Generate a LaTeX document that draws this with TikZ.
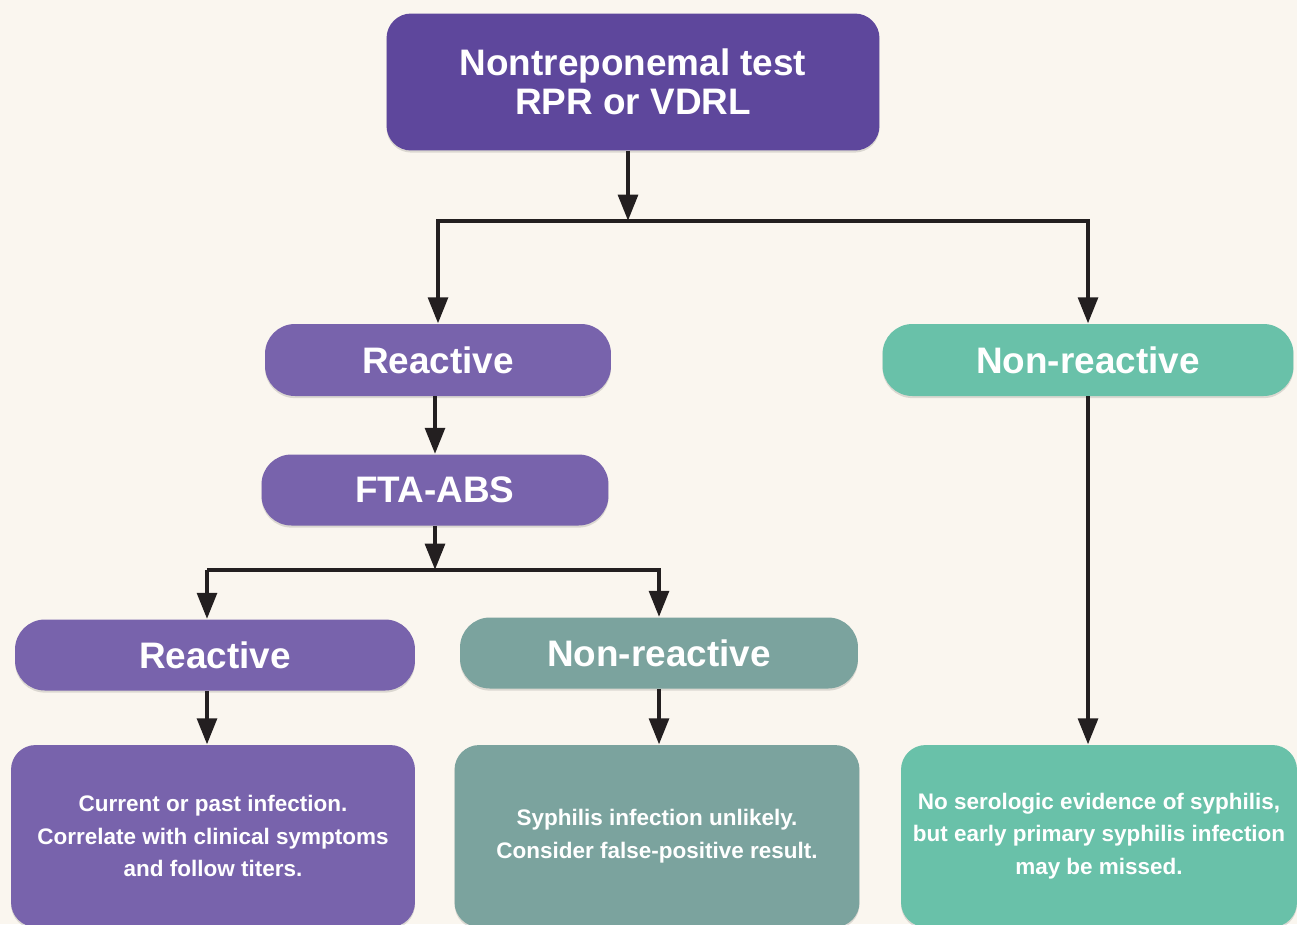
\documentclass[tikz,border=0pt]{standalone}
\usepackage{fontspec}
\setmainfont{Liberation Sans}
\usetikzlibrary{arrows.meta,shadows}

\definecolor{bgcream}{HTML}{FAF6EF}
\definecolor{deeppurple}{HTML}{5E479C}
\definecolor{softpurple}{HTML}{7863AC}
\definecolor{mintgreen}{HTML}{69C1A9}
\definecolor{grayteal}{HTML}{7BA39E}
\definecolor{inkblack}{HTML}{231F20}

\tikzset{
  flowbox/.style={rounded corners=17pt, text=white, align=center,
    inner sep=0pt, font=\bfseries\fontsize{21}{22}\selectfont,
    drop shadow={shadow xshift=0pt, shadow yshift=-1.2pt, opacity=0.12, fill=black}},
  resultbox/.style={flowbox, rounded corners=14pt,
    font=\bfseries\fontsize{12.8}{18.5}\selectfont},
  arr/.style={draw=inkblack, line width=2.8pt,
    -{Triangle[length=15pt,width=11pt]}},
  joinline/.style={draw=inkblack, line width=2.8pt}
}

\begin{document}
\begin{tikzpicture}[x=0.02cm,y=-0.02cm]
		% >>> background
		\fill[bgcream] (0,0) rectangle (1297,924);
		\useasboundingbox (0,0) rectangle (1297,924);
		% <<< background

		% >>> boxes
		\node[flowbox, fill=deeppurple, rounded corners=14pt, minimum width=9.86cm, minimum height=2.74cm] (nontrep) at (633,82) {Nontreponemal test\\RPR or VDRL};
		\node[flowbox, fill=softpurple, minimum width=6.92cm, minimum height=1.44cm] (reactA) at (438,360) {Reactive};
		\node[flowbox, fill=mintgreen, minimum width=8.22cm, minimum height=1.44cm] (nonreactA) at (1088,360) {Non-reactive};
		\node[flowbox, fill=softpurple, minimum width=6.94cm, minimum height=1.42cm] (ftaabs) at (435,490) {FTA-ABS};
		\node[flowbox, fill=softpurple, minimum width=8.0cm, minimum height=1.42cm] (reactB) at (215,655) {Reactive};
		\node[flowbox, fill=grayteal, minimum width=7.96cm, minimum height=1.42cm] (nonreactB) at (659,653) {Non-reactive};
		% <<< boxes

		% >>> results
		\node[resultbox, fill=softpurple, minimum width=8.08cm, minimum height=3.64cm] (pastinf) at (213,836) {Current or past infection.\\Correlate with clinical symptoms\\and follow titers.};
		\node[resultbox, fill=grayteal, minimum width=8.1cm, minimum height=3.64cm] (unlikely) at (657,836) {Syphilis infection unlikely.\\Consider false-positive result.};
		\node[resultbox, fill=mintgreen, minimum width=7.92cm, minimum height=3.64cm] (noevid) at (1099,836) {No serologic evidence of syphilis,\\but early primary syphilis infection\\may be missed.};
		% <<< results

		% >>> connectors
		\coordinate (splitA) at (628,221);
		\coordinate (splitB) at (435,570);
		\coordinate (legB) at (207,570);
		\draw[arr] (nontrep.south -| splitA) -- (splitA);
		\draw[joinline] (reactA.north |- splitA) -- (nonreactA.north |- splitA);
		\draw[arr] (splitA) -| (reactA.north);
		\draw[arr] (splitA) -| (nonreactA.north);
		\draw[arr] (reactA.south -| splitB) -- (ftaabs.north -| splitB);
		\draw[arr] (ftaabs.south -| splitB) -- (splitB);
		\draw[joinline] (legB) -- (nonreactB.north |- splitB);
		\draw[arr] (legB) -- (reactB.north -| legB);
		\draw[arr] (splitB) -| (nonreactB.north);
		\draw[arr] (reactB.south -| legB) -- (pastinf.north -| legB);
		\draw[arr] (nonreactB.south) -- (unlikely.north -| nonreactB.south);
		\draw[arr] (nonreactA.south) -- (noevid.north -| nonreactA.south);
		% <<< connectors
\end{tikzpicture}
\end{document}
